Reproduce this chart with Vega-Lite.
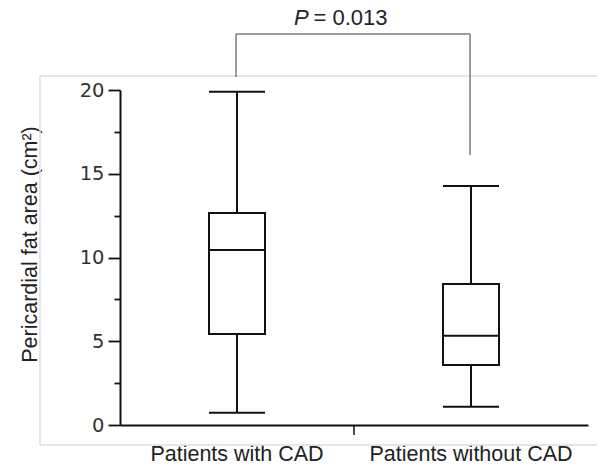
{
  "$schema": "https://vega.github.io/schema/vega-lite/v6.json",
  "width": 468,
  "height": 335,
  "autosize": {"type": "none"},
  "padding": {"left": 120, "top": 90, "right": 9, "bottom": 42},
  "background": "white",
  "config": {"view": {"stroke": null}},
  "datasets": {
    "boxes": [
      {"group": "Patients with CAD", "min": 0.73, "q1": 5.43, "median": 10.45, "q3": 12.66, "max": 19.9},
      {"group": "Patients without CAD", "min": 1.09, "q1": 3.58, "median": 5.33, "q3": 8.42, "max": 14.27}
    ],
    "frame": [{"x1": -0.171, "x2": 1.03, "y1": -1.19, "y2": 20.84}],
    "bracket": [
      {"x1": 0.248, "x2": 0.248, "y1": 20.78, "y2": 23.34},
      {"x1": 0.248, "x2": 0.748, "y1": 23.34, "y2": 23.34},
      {"x1": 0.748, "x2": 0.748, "y1": 16.12, "y2": 23.34}
    ],
    "xtick": [{"x1": 0.5, "y1": 0, "y2": -0.6}],
    "ptext": [
      {"label": "P", "tx": 0.372, "ty": 23.9},
      {"label": "= 0.013", "tx": 0.4135, "ty": 23.9}
    ]
  },
  "layer": [
    {
      "layer": [
        {
          "data": {"name": "frame"},
          "mark": {"type": "rect", "fill": null, "stroke": "#dedede", "strokeWidth": 1.5},
          "encoding": {
            "x": {"field": "x1", "type": "quantitative", "scale": {"domain": [0, 1], "nice": false, "zero": false}, "axis": null},
            "x2": {"field": "x2"},
            "y": {"field": "y1", "type": "quantitative", "axis": null, "scale": {"domain": [0, 20], "nice": false}},
            "y2": {"field": "y2"}
          }
        },
        {
          "data": {"name": "bracket"},
          "mark": {"type": "rule", "color": "#7a7a7a", "strokeWidth": 1.5},
          "encoding": {
            "x": {"field": "x1", "type": "quantitative", "axis": null},
            "x2": {"field": "x2"},
            "y": {"field": "y1", "type": "quantitative", "axis": null},
            "y2": {"field": "y2"}
          }
        },
        {
          "data": {"name": "xtick"},
          "mark": {"type": "rule", "color": "#111", "strokeWidth": 1.5},
          "encoding": {
            "x": {"field": "x1", "type": "quantitative", "axis": null},
            "y": {"field": "y1", "type": "quantitative", "axis": null},
            "y2": {"field": "y2"}
          }
        },
        {
          "data": {"name": "ptext"},
          "transform": [{"filter": "datum.label == 'P'"}],
          "mark": {"type": "text", "align": "left", "baseline": "alphabetic", "font": "Liberation Sans", "fontSize": 22, "fontStyle": "italic", "color": "#222"},
          "encoding": {
            "x": {"field": "tx", "type": "quantitative", "axis": null},
            "y": {"field": "ty", "type": "quantitative", "axis": null},
            "text": {"field": "label"}
          }
        },
        {
          "data": {"name": "ptext"},
          "transform": [{"filter": "datum.label != 'P'"}],
          "mark": {"type": "text", "align": "left", "baseline": "alphabetic", "font": "Liberation Sans", "fontSize": 22, "color": "#222"},
          "encoding": {
            "x": {"field": "tx", "type": "quantitative", "axis": null},
            "y": {"field": "ty", "type": "quantitative", "axis": null},
            "text": {"field": "label"}
          }
        }
      ]
    },
    {
      "data": {"name": "boxes"},
      "encoding": {
        "x": {
          "field": "group",
          "type": "nominal",
          "sort": null,
          "scale": {"paddingInner": 0, "paddingOuter": 0},
          "axis": {
            "title": null,
            "ticks": false,
            "labelAngle": 0,
            "labelLimit": 0,
            "labelFont": "Liberation Sans",
            "labelFontSize": 21.5,
            "labelColor": "#222",
            "labelPadding": 18,
            "domainColor": "#111",
            "domainWidth": 2
          }
        }
      },
      "layer": [
        {
          "mark": {"type": "rule", "color": "#111", "strokeWidth": 2},
          "encoding": {
            "y": {
              "field": "min",
              "type": "quantitative",
              "scale": {"domain": [0, 20], "nice": false},
              "axis": {
                "values": [0, 2.5, 5, 7.5, 10, 12.5, 15, 17.5, 20],
                "labelExpr": "datum.value % 5 == 0 ? datum.label : ''",
                "tickSize": {"condition": {"test": "datum.value % 5 == 0", "value": 12}, "value": 6},
                "tickColor": "#111",
                "tickWidth": 1.8,
                "domainColor": "#111",
                "domainWidth": 2,
                "grid": false,
                "labelFont": "DejaVu Sans",
                "labelFontSize": 19.5,
                "labelColor": "#333",
                "labelPadding": 4,
                "title": "Pericardial fat area (cm²)",
                "titleFont": "Liberation Sans",
                "titleFontSize": 21.5,
                "titleFontWeight": "normal",
                "titleColor": "#222",
                "titlePadding": 38,
                "titleY": 154
              }
            },
            "y2": {"field": "q1"}
          }
        },
        {
          "mark": {"type": "rule", "color": "#111", "strokeWidth": 2},
          "encoding": {
            "y": {"field": "q3", "type": "quantitative"},
            "y2": {"field": "max"}
          }
        },
        {
          "mark": {"type": "bar", "size": 56, "fill": "white", "stroke": "#111", "strokeWidth": 2},
          "encoding": {
            "y": {"field": "q1", "type": "quantitative"},
            "y2": {"field": "q3"}
          }
        },
        {
          "mark": {"type": "tick", "size": 56, "thickness": 2, "color": "#111", "opacity": 1},
          "encoding": {"y": {"field": "median", "type": "quantitative"}}
        },
        {
          "mark": {"type": "tick", "size": 56, "thickness": 2, "color": "#111", "opacity": 1},
          "encoding": {"y": {"field": "min", "type": "quantitative"}}
        },
        {
          "mark": {"type": "tick", "size": 56, "thickness": 2, "color": "#111", "opacity": 1},
          "encoding": {"y": {"field": "max", "type": "quantitative"}}
        }
      ]
    }
  ],
  "resolve": {"scale": {"x": "independent"}, "axis": {"x": "independent", "y": "independent"}}
}
